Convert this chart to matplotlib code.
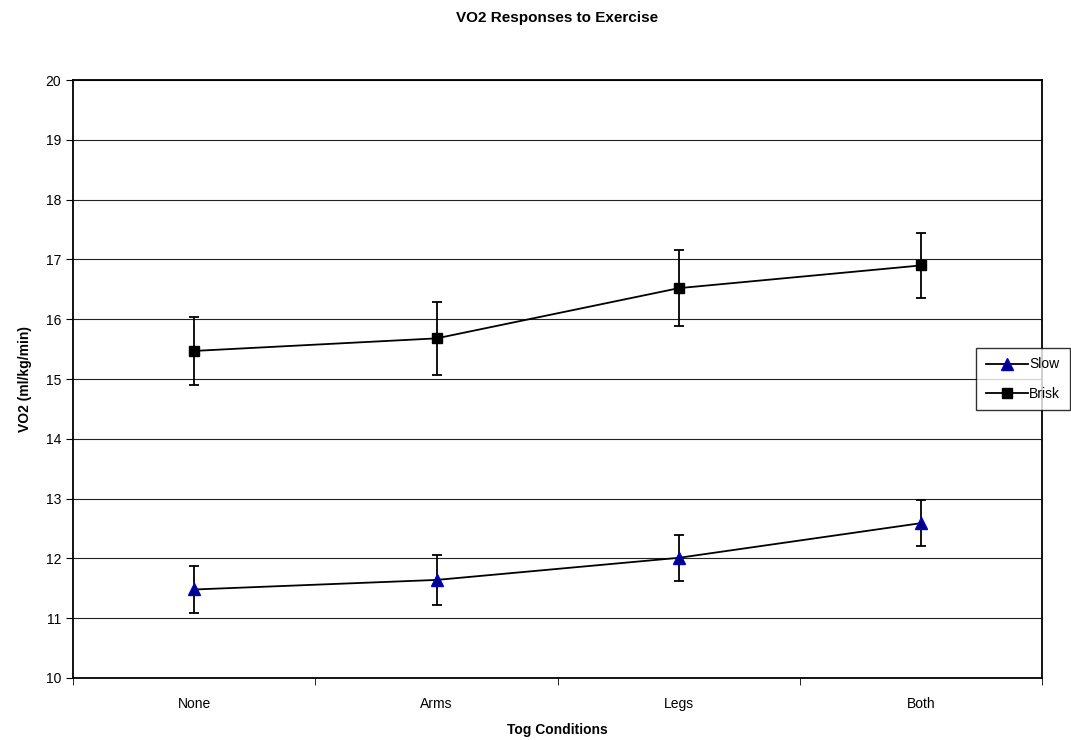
import numpy as np
import matplotlib.pyplot as plt
from matplotlib.lines import Line2D

conditions = ["None", "Arms", "Legs", "Both"]
slow = [11.48, 11.64, 12.01, 12.59]
slow_err = [0.40, 0.42, 0.38, 0.38]
brisk = [15.47, 15.68, 16.52, 16.90]
brisk_err = [0.57, 0.61, 0.63, 0.55]

plt.rcParams['font.family'] = ['Liberation Sans', 'DejaVu Sans']

fig = plt.figure(figsize=(10.71, 7.40), dpi=100)
ax = fig.add_axes([0.0682, 0.0838, 0.905, 0.808])

x = np.arange(len(conditions))
slow_style = dict(color="black", marker="^", markersize=8.5, markerfacecolor="#000080",
                  markeredgecolor="#0000CC")
brisk_style = dict(color="black", marker="s", markersize=7, markerfacecolor="black",
                   markeredgecolor="black")
ax.errorbar(x, slow, yerr=slow_err, lw=1.3, capsize=3.8, capthick=1.3,
            elinewidth=1.3, zorder=3, **slow_style)
ax.errorbar(x, brisk, yerr=brisk_err, lw=1.3, capsize=3.8, capthick=1.3,
            elinewidth=1.3, zorder=3, **brisk_style)

ax.set_xlim(-0.5, len(conditions) - 0.5)
ax.set_ylim(10, 20)
ax.set_yticks(range(10, 21))
ax.yaxis.grid(True, color="#222222", lw=0.8)
ax.set_axisbelow(True)
ax.set_xticks(x)
ax.set_xticklabels(conditions, fontsize=10)
ax.tick_params(axis="x", length=0, pad=14)
ax.set_xticks(np.arange(-0.5, len(conditions)), minor=True)
ax.tick_params(axis="x", which="minor", length=5, direction="out")
ax.tick_params(axis="y", length=5, direction="out", labelsize=10)
for s in ax.spines.values():
    s.set_linewidth(1.3)

ax.set_xlabel("Tog Conditions", fontsize=10, fontweight="bold", labelpad=8)
ax.set_ylabel("VO2 (ml/kg/min)", fontsize=10, fontweight="bold", labelpad=10)
fig.suptitle("VO2 Responses to Exercise", fontsize=11, fontweight="bold", x=0.52, y=0.985)

handles = [Line2D([], [], lw=1.3, **slow_style), Line2D([], [], lw=1.3, **brisk_style)]
leg = ax.legend(handles, ["Slow", "Brisk"], loc="center left", bbox_to_anchor=(0.932, 0.5),
                frameon=True, fancybox=False, edgecolor="black", fontsize=10,
                handlelength=3.0, borderpad=0.7, labelspacing=1.1, handletextpad=0.1,
                borderaxespad=0)
leg.get_frame().set_linewidth(1.0)
leg.set_zorder(5)

fig.savefig("out.png", dpi=100)
